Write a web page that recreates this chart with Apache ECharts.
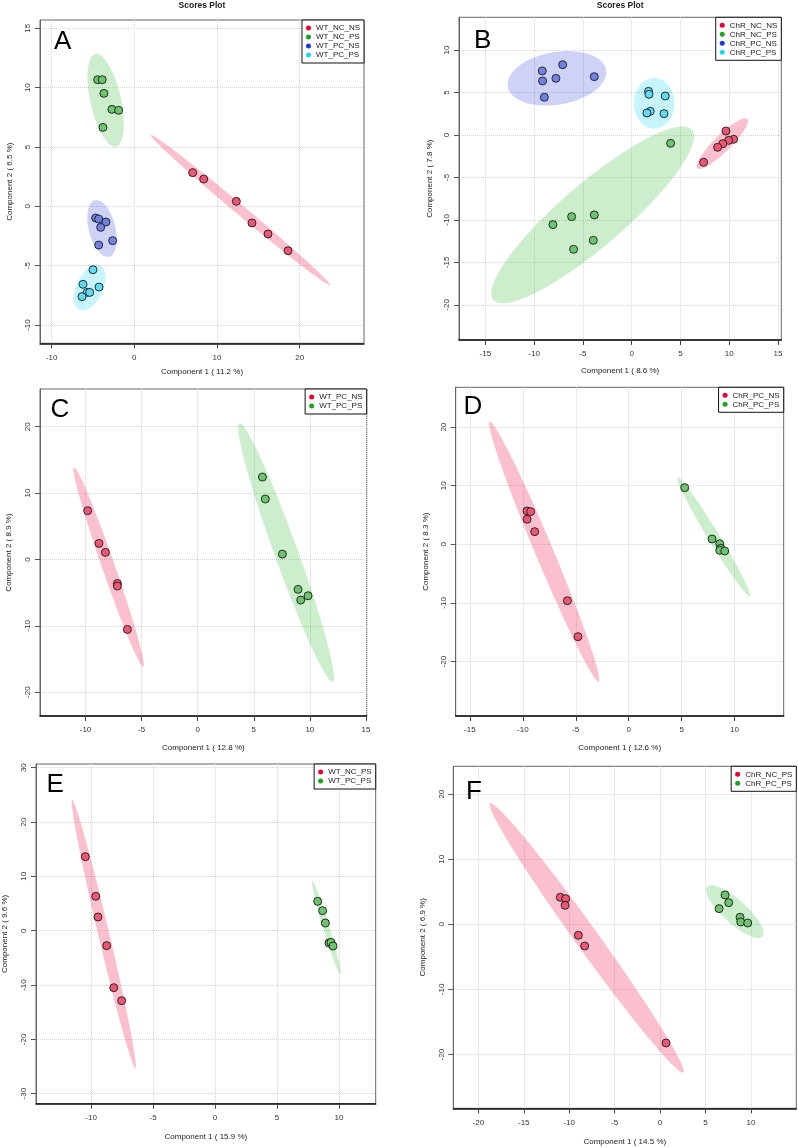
<!DOCTYPE html>
<html><head><meta charset="utf-8">
<script src="https://cdn.jsdelivr.net/npm/echarts@6/dist/echarts.min.js"></script>
<style>html,body{margin:0;padding:0;background:#fff}#c{width:798px;height:1148px}</style>
</head><body><div id="c"></div>
<script>
// ---------------- DATA ----------------
// Panel A
const A_groups = ['WT_NC_NS', 'WT_NC_PS', 'WT_PC_NS', 'WT_PC_PS'];
const A_WT_NC_NS = [[7.06,2.84],[8.39,2.30],[12.34,0.42],[14.23,-1.40],[16.17,-2.33],[18.59,-3.74]];
const A_WT_NC_PS = [[-4.44,10.67],[-3.88,10.67],[-3.68,9.52],[-2.71,8.17],[-1.90,8.09],[-3.80,6.65]];
const A_WT_PC_NS = [[-4.68,-0.98],[-4.31,-1.07],[-3.43,-1.32],[-4.07,-1.77],[-2.62,-2.89],[-4.31,-3.26]];
const A_WT_PC_PS = [[-5.00,-5.34],[-6.21,-6.57],[-4.27,-6.80],[-5.69,-7.25],[-5.40,-7.25],[-6.33,-7.61]];
// ellipse: major-axis end 1 (x,y), major-axis end 2 (x,y), minor-axis end (x,y)
const A_ell_WT_NC_NS = [1.98,6.01, 23.67,-6.63, 13.21,0.01];
const A_ell_WT_NC_PS = [-4.72,12.84, -2.22,5.03, -1.66,9.21];
const A_ell_WT_PC_NS = [-4.76,0.51, -3.06,-4.24, -2.35,-1.60];
const A_ell_WT_PC_PS = [-4.15,-5.00, -6.65,-8.71, -3.94,-7.33];
const A_xTicks = [-10, 0, 10, 20];
const A_yTicks = [-10, -5, 0, 5, 10, 15];

// Panel B
const B_groups = ['ChR_NC_NS', 'ChR_NC_PS', 'ChR_PC_NS', 'ChR_PC_PS'];
const B_ChR_NC_NS = [[9.67,0.47],[10.46,-0.51],[9.95,-0.63],[9.36,-1.02],[8.82,-1.45],[7.38,-3.22]];
const B_ChR_NC_PS = [[4.00,-0.98],[-8.07,-10.56],[-6.15,-9.62],[-3.83,-9.42],[-3.93,-12.41],[-5.95,-13.47]];
const B_ChR_PC_NS = [[-9.16,7.54],[-9.13,6.36],[-8.95,4.44],[-7.76,6.67],[-7.07,8.28],[-3.83,6.87]];
const B_ChR_PC_PS = [[1.74,5.14],[1.78,4.79],[3.45,4.59],[1.91,2.79],[1.57,2.59],[3.32,2.51]];
const B_ell_ChR_NC_NS = [6.73,-3.93, 11.86,1.88, 9.90,-1.72];
const B_ell_ChR_NC_PS = [-14.18,-19.43, 6.19,0.59, -1.89,-12.26];
const B_ell_ChR_PC_NS = [-12.70,5.69, -2.62,7.66, -8.11,9.73];
const B_ell_ChR_PC_PS = [2.32,6.71, 2.32,0.75, 4.41,3.73];
const B_xTicks = [-15, -10, -5, 0, 5, 10, 15];
const B_yTicks = [-20, -15, -10, -5, 0, 5, 10];

// Panel C
const C_groups = ['WT_PC_NS', 'WT_PC_PS'];
const C_WT_PC_NS = [[-9.81,7.34],[-8.80,2.41],[-8.23,1.06],[-7.16,-3.62],[-7.16,-4.02],[-6.27,-10.55]];
const C_WT_PC_PS = [[5.77,12.41],[6.03,9.10],[7.55,0.80],[8.95,-4.52],[9.19,-6.13],[9.84,-5.48]];
const C_ell_WT_PC_NS = [-11.03,13.87, -4.85,-16.18, -7.40,-0.84];
const C_ell_WT_PC_PS = [3.72,20.50, 12.04,-18.44, 8.86,1.63];
const C_xTicks = [-10, -5, 0, 5, 10, 15];
const C_yTicks = [-20, -10, 0, 10, 20];

// Panel D
const D_groups = ['ChR_PC_NS', 'ChR_PC_PS'];
const D_ChR_PC_NS = [[-9.60,5.69],[-9.26,5.58],[-9.60,4.27],[-8.88,2.16],[-5.79,-9.62],[-4.79,-15.76]];
const D_ChR_PC_PS = [[5.29,9.67],[7.87,0.91],[8.60,0.11],[8.69,-0.68],[8.60,-1.02],[9.07,-1.14]];
const D_ell_ChR_PC_NS = [-13.13,20.94, -2.83,-23.44, -7.20,-0.65];
const D_ell_ChR_PC_PS = [4.60,11.44, 11.43,-8.82, 8.47,1.81];
const D_xTicks = [-15, -10, -5, 0, 5, 10];
const D_yTicks = [-20, -10, 0, 10, 20];

// Panel E
const E_groups = ['WT_NC_PS', 'WT_PC_PS'];
const E_WT_NC_PS = [[-10.46,13.62],[-9.62,6.32],[-9.44,2.52],[-8.74,-2.76],[-8.17,-10.49],[-7.53,-12.88]];
const E_WT_PC_PS = [[8.28,5.40],[8.68,3.68],[8.90,1.41],[9.19,-2.27],[9.35,-2.15],[9.52,-2.82]];
const E_ell_WT_NC_PS = [-11.53,24.05, -6.42,-25.34, -8.54,-0.41];
const E_ell_WT_PC_PS = [7.85,9.14, 10.11,-8.04, 9.23,0.72];
const E_xTicks = [-10, -5, 0, 5, 10];
const E_yTicks = [-30, -20, -10, 0, 10, 20, 30];

// Panel F
const F_groups = ['ChR_NC_PS', 'ChR_PC_PS'];
const F_ChR_NC_PS = [[-10.98,4.15],[-10.39,3.94],[-10.46,2.92],[-8.99,-1.69],[-8.30,-3.33],[0.66,-18.23]];
const F_ChR_PC_PS = [[7.16,4.51],[7.56,3.33],[6.50,2.41],[8.81,1.08],[8.88,0.36],[9.65,0.20]];
const F_ell_ChR_NC_PS = [-18.72,18.59, 2.57,-22.79, -7.05,-1.07];
const F_ell_ChR_PC_PS = [5.21,5.79, 11.27,-1.89, 9.15,3.25];
const F_xTicks = [-20, -15, -10, -5, 0, 5, 10];
const F_yTicks = [-20, -10, 0, 10, 20];

// Axis titles
const xTitles = ['Component 1 ( 11.2 %)', 'Component 1 ( 8.6 %)', 'Component 1 ( 12.8 %)', 'Component 1 ( 12.6 %)', 'Component 1 ( 15.9 %)', 'Component 1 ( 14.5 %)'];
const yTitles = ['Component 2 ( 6.5 %)', 'Component 2 ( 7.8 %)', 'Component 2 ( 8.9 %)', 'Component 2 ( 8.3 %)', 'Component 2 ( 9.6 %)', 'Component 2 ( 6.9 %)'];
const panelLetters = ['A', 'B', 'C', 'D', 'E', 'F'];
const plotTitle = 'Scores Plot';

// ---------------- STYLE / LAYOUT ----------------
const FONT = 'Liberation Sans, Arial, sans-serif';
const pal = {
  red:   {dot:'#e8002e', pt:'#ee5674', ell:'rgba(240,60,100,0.32)'},
  green: {dot:'#1fa31f', pt:'#6cc46c', ell:'rgba(40,180,40,0.23)'},
  blue:  {dot:'#2238d8', pt:'#7282e2', ell:'rgba(30,50,220,0.22)'},
  cyan:  {dot:'#22d4f4', pt:'#62daf4', ell:'rgba(0,210,250,0.22)'}
};
const order4 = ['red','green','blue','cyan'];
const order2 = ['red','green'];

const panels = [
  {groups:A_groups, pts:[A_WT_NC_NS,A_WT_NC_PS,A_WT_PC_NS,A_WT_PC_PS], ells:[A_ell_WT_NC_NS,A_ell_WT_NC_PS,A_ell_WT_PC_NS,A_ell_WT_PC_PS], xt:A_xTicks, yt:A_yTicks, cols:order4,
   rect:[40,20,324,323.3], xr:[-11.41,27.78], yr:[-11.54,15.70], letter:[54,43], xGap:24, yGap:26, title:true},
  {groups:B_groups, pts:[B_ChR_NC_NS,B_ChR_NC_PS,B_ChR_PC_NS,B_ChR_PC_PS], ells:[B_ell_ChR_NC_NS,B_ell_ChR_NC_PS,B_ell_ChR_PC_NS,B_ell_ChR_PC_PS], xt:B_xTicks, yt:B_yTicks, cols:order4,
   rect:[459,17.3,322.3,322.7], xr:[-17.70,15.35], yr:[-24.15,13.86], letter:[474,42], xGap:27, yGap:25, title:true},
  {groups:C_groups, pts:[C_WT_PC_NS,C_WT_PC_PS], ells:[C_ell_WT_PC_NS,C_ell_WT_PC_PS], xt:C_xTicks, yt:C_yTicks, cols:order2,
   rect:[40,389,326.7,327], xr:[-14.06,15.07], yr:[-23.6,25.68], letter:[50.5,410.5], xGap:28, yGap:27},
  {groups:D_groups, pts:[D_ChR_PC_NS,D_ChR_PC_PS], ells:[D_ell_ChR_PC_NS,D_ell_ChR_PC_PS], xt:D_xTicks, yt:D_yTicks, cols:order2,
   rect:[455.7,387.3,328,328.7], xr:[-16.34,14.64], yr:[-29.3,26.8], letter:[463.5,408], xGap:28, yGap:26},
  {groups:E_groups, pts:[E_WT_NC_PS,E_WT_PC_PS], ells:[E_ell_WT_NC_PS,E_ell_WT_PC_PS], xt:E_xTicks, yt:E_yTicks, cols:order2,
   rect:[36,764,339.7,339.7], xr:[-14.44,12.96], yr:[-31.84,30.67], letter:[46.5,785.5], xGap:29, yGap:27},
  {groups:F_groups, pts:[F_ChR_NC_PS,F_ChR_PC_PS], ells:[F_ell_ChR_NC_PS,F_ell_ChR_PC_PS], xt:F_xTicks, yt:F_yTicks, cols:order2,
   rect:[453.3,766.3,343,342], xr:[-22.76,15.0], yr:[-28.27,24.28], letter:[466,792.5], xGap:29, yGap:27}
];

function makeEllipseRenderer(fill) {
  return function (params, api) {
    const p1 = api.coord([api.value(0), api.value(1)]);
    const p2 = api.coord([api.value(2), api.value(3)]);
    const q = api.coord([api.value(4), api.value(5)]);
    const cx = (p1[0] + p2[0]) / 2, cy = (p1[1] + p2[1]) / 2;
    const ax = p2[0] - cx, ay = p2[1] - cy, bx = q[0] - cx, by = q[1] - cy;
    const pts = [];
    const N = 120;
    for (let i = 0; i < N; i++) {
      const t = i / N * Math.PI * 2;
      pts.push([cx + ax * Math.cos(t) + bx * Math.sin(t), cy + ay * Math.cos(t) + by * Math.sin(t)]);
    }
    return {type: 'polygon', shape: {points: pts}, style: {fill: fill}, silent: true};
  };
}

const W = 798;
const grid = [], xAxis = [], yAxis = [], series = [], legend = [], graphic = [];
panels.forEach((p, i) => {
  const [l, t, w, h] = p.rect;
  grid.push({left: l, top: t, width: w, height: h, containLabel: false, outerBoundsMode: 'none',
    show: true, borderColor: '#666', borderWidth: 1, backgroundColor: 'transparent'});
  xAxis.push({type: 'value', gridIndex: i, min: p.xr[0], max: p.xr[1],
    name: xTitles[i], nameLocation: 'middle', nameGap: p.xGap,
    nameTextStyle: {fontFamily: FONT, fontSize: 8, color: '#222'},
    axisLine: {show: true, onZero: false, lineStyle: {color: '#111', width: 1.5}},
    axisTick: {show: true, length: 5, customValues: p.xt, lineStyle: {color: '#444', width: 1}},
    axisLabel: {customValues: p.xt, margin: 10, fontFamily: FONT, fontSize: 8, color: '#333', showMinLabel: true, showMaxLabel: true, hideOverlap: false},
    splitLine: {show: true, lineStyle: {color: '#d4d4d4', type: 'dotted', width: 1}}
  });
  yAxis.push({type: 'value', gridIndex: i, min: p.yr[0], max: p.yr[1],
    name: yTitles[i], nameLocation: 'middle', nameGap: p.yGap,
    nameTextStyle: {fontFamily: FONT, fontSize: 8, color: '#222'},
    axisLine: {show: true, onZero: false, lineStyle: {color: '#666', width: 1}},
    axisTick: {show: true, length: 5, customValues: p.yt, lineStyle: {color: '#555', width: 1}},
    axisLabel: {customValues: p.yt, rotate: 90, margin: 8, fontFamily: FONT, fontSize: 8, color: '#333', showMinLabel: true, showMaxLabel: true, hideOverlap: false},
    splitLine: {show: true, lineStyle: {color: '#d4d4d4', type: 'dotted', width: 1}}
  });
  // ellipses
  p.ells.forEach((e, k) => {
    series.push({type: 'custom', name: 'ellipse ' + i + '-' + k, xAxisIndex: i, yAxisIndex: i, z: 1,
      renderItem: makeEllipseRenderer(pal[p.cols[k]].ell), data: [e], silent: true, animation: false});
  });
  // points
  p.pts.forEach((d, k) => {
    series.push({type: 'scatter', name: p.groups[k], xAxisIndex: i, yAxisIndex: i, z: 3,
      symbol: 'circle', symbolSize: 8, data: d, animation: false,
      itemStyle: {color: pal[p.cols[k]].pt, borderColor: '#1a1a1a', borderWidth: 0.9, opacity: 1}});
  });
  legend.push({
    orient: 'vertical', right: W - (l + w), top: t, itemWidth: 5, itemHeight: 5, itemGap: 1,
    icon: 'circle', padding: [4, 4, 4, 4], backgroundColor: '#fff', borderColor: '#111', borderWidth: 1,
    borderRadius: 0, selectedMode: false, z: 10,
    textStyle: {fontFamily: FONT, fontSize: 8, color: '#222', lineHeight: 8},
    data: p.groups.map((g, k) => ({name: g, itemStyle: {color: pal[p.cols[k]].dot, borderWidth: 0}}))
  });
  graphic.push({type: 'text', left: p.letter[0], top: p.letter[1] - 14, z: 20,
    style: {text: panelLetters[i], fontFamily: FONT, fontSize: 26, fill: '#000'}});
  if (p.title) {
    graphic.push({type: 'text', x: l + w / 2, y: 6, z: 20,
      style: {text: plotTitle, fontFamily: FONT, fontSize: 8.5, fontWeight: 'bold', fill: '#222', align: 'center', verticalAlign: 'middle'}});
  }
});

const chart = echarts.init(document.getElementById('c'), null, {renderer: 'canvas'});
chart.setOption({
  animation: false,
  backgroundColor: '#fff',
  grid, xAxis, yAxis, series, legend, graphic
});
</script></body></html>
